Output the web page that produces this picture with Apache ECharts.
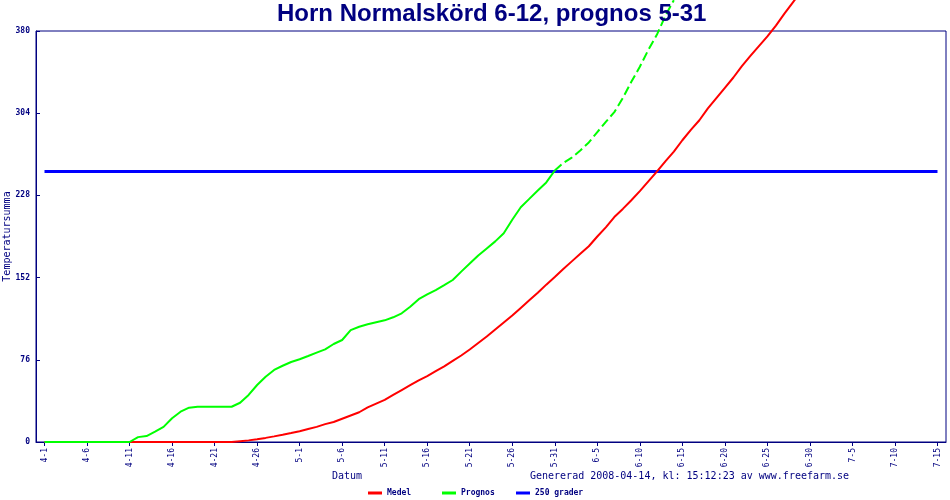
<!DOCTYPE html>
<html>
<head>
<meta charset="utf-8">
<script src="https://cdn.jsdelivr.net/npm/echarts@6/dist/echarts.min.js"></script>
<style>
  html, body { margin: 0; padding: 0; background: #fff; }
  #chart { width: 950px; height: 500px; }
</style>
</head>
<body>
<div id="chart"></div>
<script>
// datum axeln, en dag per kategori (3-31 och 7-16 ger luft i kanterna)
var dates = ['3-31',
  '4-1','4-2','4-3','4-4','4-5','4-6','4-7','4-8','4-9','4-10',
  '4-11','4-12','4-13','4-14','4-15','4-16','4-17','4-18','4-19','4-20',
  '4-21','4-22','4-23','4-24','4-25','4-26','4-27','4-28','4-29','4-30',
  '5-1','5-2','5-3','5-4','5-5','5-6','5-7','5-8','5-9','5-10',
  '5-11','5-12','5-13','5-14','5-15','5-16','5-17','5-18','5-19','5-20',
  '5-21','5-22','5-23','5-24','5-25','5-26','5-27','5-28','5-29','5-30','5-31',
  '6-1','6-2','6-3','6-4','6-5','6-6','6-7','6-8','6-9','6-10',
  '6-11','6-12','6-13','6-14','6-15','6-16','6-17','6-18','6-19','6-20',
  '6-21','6-22','6-23','6-24','6-25','6-26','6-27','6-28','6-29','6-30',
  '7-1','7-2','7-3','7-4','7-5','7-6','7-7','7-8','7-9','7-10',
  '7-11','7-12','7-13','7-14','7-15','7-16'];

// Medel, fran 4-1
var medel = [0,0,0,0,0,0,0,0,0,0,
  0,0,0,0,0,0,0,0,0,0,
  0,0,0,0.8,1.5,2.5,3.8,5.2,6.7,8.3,
  10,12,14,16.5,18.5,21.5,24.5,27.5,32,35.5,
  39,43.5,48,52.5,57,61,65.5,70,75,80,
  85.5,91.5,97.5,104,110.5,117,124,131,138,145.5,152.5,
  160,167,174,181,190,198.5,208,215.5,223.5,232,
  241,250,259.5,268.5,279,288.5,297.5,308.5,318,327.5,
  337,347.5,357,366,375,385,396,406.5,417];

// Prognos, fran 4-1
var prognos = [0,0,0,0,0,0,0,0,0,0,
  0,4.5,5.5,9.5,14,22,28,31.7,32.6,32.6,
  32.6,32.6,32.6,36.3,43.5,52.7,60.4,66.6,70.5,74,
  76.5,79.5,82.6,85.7,90.6,94.3,103.5,106.6,108.8,110.7,
  112.5,115.3,119,125,132,136.5,140.5,145,149.8,157.5,
  165,172.5,179,185.5,193,205.5,217,224.8,232.5,240,251,
  258,263,269.5,277,286.5,296,305,318,333,347,
  362.5,376.5,394,408.5];

var prognosFrom = '5-31';
var gradLevel = 250;
var gradStart = '4-1';
var gradEnd = '7-15';

var navy = '#000080';
var mono = 'DejaVu Sans Mono';

var medelData = medel.map(function (v, i) { return [dates[i + 1], v]; });
var cut = dates.indexOf(prognosFrom) - 1;
var progSolid = [], progDash = [];
prognos.forEach(function (v, i) {
  if (i <= cut) progSolid.push([dates[i + 1], v]);
  if (i >= cut) progDash.push([dates[i + 1], v]);
});
var gradData = [[gradStart, gradLevel], [gradEnd, gradLevel]];

var chart = echarts.init(document.getElementById('chart'), null, { renderer: 'canvas' });

// en legend per post for att fa samma steg som originalet
function leg(name, x) {
  return {
    data: [name], left: x, top: 489, icon: 'rect',
    itemWidth: 14, itemHeight: 3, itemTextGap: 2, padding: 0,
    itemStyle: { borderWidth: 0 },
    textStyle: { fontFamily: mono, fontSize: 8, fontWeight: 'bold', color: navy }
  };
}

var option = {
  animation: false,
  backgroundColor: '#fff',
  title: {
    text: 'Horn Normalskörd 6-12, prognos 5-31',
    left: 277,
    top: 2,
    padding: 0,
    textStyle: { fontFamily: 'Liberation Sans', fontWeight: 'bold', fontSize: 24, color: navy }
  },
  legend: [leg('Medel', 368), leg('Prognos', 442), leg('250 grader', 516)],
  grid: {
    left: 36, right: 4, top: 31, bottom: 58,
    containLabel: false,
    outerBoundsMode: 'none',
    show: true, borderColor: navy, borderWidth: 1
  },
  xAxis: {
    type: 'category',
    data: dates,
    boundaryGap: false,
    axisLine: { lineStyle: { color: navy, width: 1 } },
    axisTick: {
      length: 4,
      lineStyle: { color: navy },
      interval: function (i) { return i > 0 && (i - 1) % 5 === 0; }
    },
    axisLabel: {
      rotate: 90,
      margin: 6,
      interval: function (i) { return i > 0 && (i - 1) % 5 === 0; },
      fontFamily: mono, fontSize: 8, color: navy
    },
    splitLine: { show: false }
  },
  yAxis: {
    type: 'value',
    min: 0, max: 380, interval: 76,
    name: 'Temperatursumma',
    nameLocation: 'middle',
    nameGap: 24,
    nameMoveOverlap: false,
    nameTextStyle: { fontFamily: mono, fontSize: 10, color: navy },
    axisLine: { show: true, lineStyle: { color: navy, width: 1 } },
    axisTick: { show: true, inside: true, length: 4, lineStyle: { color: navy } },
    axisLabel: { margin: 6, fontFamily: mono, fontSize: 8, fontWeight: 'bold', color: navy },
    splitLine: { show: false }
  },
  graphic: [
    { type: 'text', left: 332, top: 471,
      style: { text: 'Datum', font: '10px "DejaVu Sans Mono"', fill: navy } },
    { type: 'text', left: 530, top: 471,
      style: { text: 'Genererad 2008-04-14, kl: 15:12:23 av www.freefarm.se', font: '10px "DejaVu Sans Mono"', fill: navy } }
  ],
  series: [
    {
      name: 'Medel', type: 'line', data: medelData, symbol: 'none', clip: false,
      itemStyle: { color: '#ff0000' },
      lineStyle: { color: '#ff0000', width: 2 }, z: 3
    },
    {
      name: 'Prognos', type: 'line', data: progSolid, symbol: 'none', clip: false,
      itemStyle: { color: '#00ff00' },
      lineStyle: { color: '#00ff00', width: 2 }, z: 4
    },
    {
      name: 'Prognos', type: 'line', data: progDash, symbol: 'none', clip: false,
      itemStyle: { color: '#00ff00' },
      lineStyle: { color: '#00ff00', width: 2, type: [9, 4] }, z: 4
    },
    {
      name: '250 grader', type: 'line', data: gradData, symbol: 'none', clip: false,
      itemStyle: { color: '#0000ff' },
      lineStyle: { color: '#0000ff', width: 3 }, z: 2
    }
  ]
};

chart.setOption(option);
</script>
</body>
</html>
